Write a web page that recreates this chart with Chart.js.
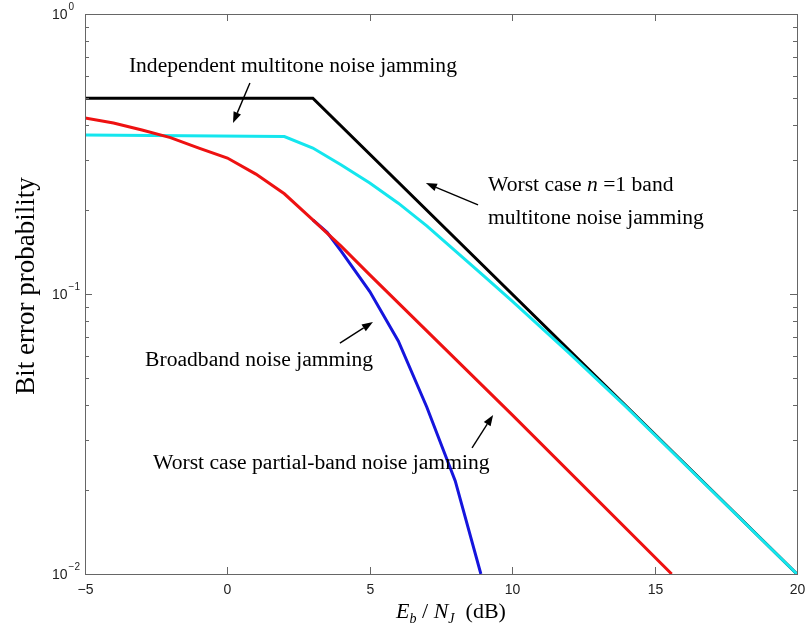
<!DOCTYPE html>
<html>
<head>
<meta charset="utf-8">
<script src="https://cdn.jsdelivr.net/npm/chart.js@4"></script>
<style>
  body { margin: 0; background: #fff; }
  canvas { display: block; }
</style>
</head>
<body>
<canvas id="ber" width="807" height="633"></canvas>
<script>
// Eb/NJ (dB) and bit error probability
const indepDb = [-5, 3, 20];
const indepBer = [0.5, 0.5, 0.01];

const bandDb = [-5, 2, 3, 4, 5, 6, 7, 8, 9, 10, 12, 14, 20];
const bandBer = [0.37, 0.365, 0.332, 0.289, 0.249, 0.211, 0.175, 0.1425, 0.116, 0.0944, 0.0615, 0.0395, 0.01];

const broadDb = [-5, -4, -3, -2, -1, 0, 1, 2, 3, 4, 5, 10, 15.6];
const broadBer = [0.425, 0.408, 0.385, 0.362, 0.332, 0.306, 0.268, 0.228, 0.184, 0.148, 0.117, 0.037, 0.01];

const partialDb = [3, 3.5, 4, 5, 6, 7, 8, 8.9];
const partialBer = [0.184, 0.166, 0.142, 0.102, 0.068, 0.0395, 0.0215, 0.01];

const xTicks = [-5, 0, 5, 10, 15, 20];
const yDecades = [-2, -1, 0];

function pts(xs, ys) {
  return xs.map((v, i) => ({ x: v, y: ys[i] }));
}

const serif = '"Liberation Serif", "Times New Roman", serif';
const sans = '"Liberation Sans", Arial, sans-serif';

// text labels and arrows, placed in data coordinates
const notes = [
  { parts: [['Independent multitone noise jamming', '']], x: 2.3, y: 0.652, align: 'center' },
  { parts: [['Worst case ', ''], ['n', 'italic '], [' =1 band', '']], x: 9.15, y: 0.245, align: 'left' },
  { parts: [['multitone noise jamming', '']], x: 9.15, y: 0.187, align: 'left' },
  { parts: [['Broadband noise jamming', '']], x: -2.89, y: 0.0581, align: 'left' },
  { parts: [['Worst case partial-band noise jamming', '']], x: -2.61, y: 0.0249, align: 'left' }
];
const arrows = [
  [0.79, 0.567, 0.197, 0.408],
  [8.80, 0.208, 6.97, 0.249],
  [3.95, 0.0668, 5.11, 0.0794],
  [8.59, 0.0282, 9.33, 0.037]
];

const decor = {
  id: 'decor',
  afterDraw(chart) {
    const ctx = chart.ctx;
    const a = chart.chartArea;
    const x = chart.scales.x, y = chart.scales.y;
    ctx.save();
    ctx.strokeStyle = '#666';
    ctx.lineWidth = 1;
    const seg = (x1, y1, x2, y2) => { ctx.beginPath(); ctx.moveTo(x1, y1); ctx.lineTo(x2, y2); ctx.stroke(); };
    ctx.strokeRect(Math.round(a.left) + 0.5, Math.round(a.top) + 0.5, Math.round(a.right - a.left), Math.round(a.bottom - a.top));

    // x ticks and labels
    ctx.fillStyle = '#222';
    ctx.font = '14px ' + sans;
    ctx.textAlign = 'center';
    ctx.textBaseline = 'middle';
    xTicks.forEach(v => {
      const px = Math.round(x.getPixelForValue(v)) + 0.5;
      seg(px, a.bottom, px, a.bottom - 7);
      seg(px, a.top, px, a.top + 7);
      ctx.fillText(v < 0 ? '\u2212' + (-v) : String(v), px, a.bottom + 16);
    });

    // y ticks (log, major + minor) and labels
    yDecades.forEach(e => {
      for (let k = 1; k < 10; k++) {
        if (e === 0 && k > 1) break;
        const py = Math.round(y.getPixelForValue(k * Math.pow(10, e))) + 0.5;
        const len = k === 1 ? 7 : 4;
        seg(a.left, py, a.left + len, py);
        seg(a.right, py, a.right - len, py);
      }
      const py = y.getPixelForValue(Math.pow(10, e));
      ctx.textAlign = 'left';
      ctx.font = '14px ' + sans;
      ctx.fillText('10', a.left - 33, py + 1);
      const w = ctx.measureText('10').width;
      ctx.font = '10px ' + sans;
      ctx.fillText(e === 0 ? '0' : '\u2212' + (-e), a.left - 33 + w + 1, py - 7);
    });

    // axis titles
    ctx.fillStyle = '#000';
    ctx.save();
    ctx.translate(27, 286);
    ctx.rotate(-Math.PI / 2);
    ctx.textAlign = 'center';
    ctx.font = '27px ' + serif;
    ctx.fillText('Bit error probability', 0, 0);
    ctx.restore();

    const titleParts = [
      ['E', 'italic 22px ', 0], ['b', 'italic 14px ', 5], [' / ', '22px ', 0],
      ['N', 'italic 22px ', 0], ['J', 'italic 14px ', 5], ['  (dB)', '22px ', 0]
    ];
    let tw = 0;
    titleParts.forEach(p => { ctx.font = p[1] + serif; tw += ctx.measureText(p[0]).width; });
    let tx = (a.left + a.right) / 2 - tw / 2 + 10;
    ctx.textAlign = 'left';
    ctx.textBaseline = 'alphabetic';
    titleParts.forEach(p => {
      ctx.font = p[1] + serif;
      ctx.fillText(p[0], tx, 618 + p[2]);
      tx += ctx.measureText(p[0]).width;
    });

    // annotations
    ctx.textBaseline = 'middle';
    notes.forEach(n => {
      let total = 0;
      n.parts.forEach(p => { ctx.font = p[1] + '21.6px ' + serif; total += ctx.measureText(p[0]).width; });
      let px = x.getPixelForValue(n.x);
      if (n.align === 'center') px -= total / 2;
      const py = y.getPixelForValue(n.y);
      n.parts.forEach(p => {
        ctx.font = p[1] + '21.6px ' + serif;
        ctx.fillText(p[0], px, py);
        px += ctx.measureText(p[0]).width;
      });
    });

    ctx.strokeStyle = '#000';
    ctx.lineWidth = 1.4;
    arrows.forEach(r => {
      const x1 = x.getPixelForValue(r[0]), y1 = y.getPixelForValue(r[1]);
      const x2 = x.getPixelForValue(r[2]), y2 = y.getPixelForValue(r[3]);
      const ang = Math.atan2(y2 - y1, x2 - x1);
      const hl = 11, hw = 4;
      const bx = x2 - hl * Math.cos(ang), by = y2 - hl * Math.sin(ang);
      seg(x1, y1, bx, by);
      ctx.beginPath();
      ctx.moveTo(x2, y2);
      ctx.lineTo(bx + hw * Math.sin(ang), by - hw * Math.cos(ang));
      ctx.lineTo(bx - hw * Math.sin(ang), by + hw * Math.cos(ang));
      ctx.closePath();
      ctx.fill();
    });
    ctx.restore();
  }
};

const line = (data, color, order) => ({
  data: data,
  borderColor: color,
  borderWidth: 3,
  pointRadius: 0,
  tension: 0,
  fill: false,
  order: order
});

new Chart(document.getElementById('ber'), {
  type: 'line',
  data: {
    datasets: [
      line(pts(broadDb, broadBer), '#ee1111', 0),
      line(pts(bandDb, bandBer), '#14e6ee', 1),
      line(pts(partialDb, partialBer), '#1515dd', 2),
      line(pts(indepDb, indepBer), '#000000', 3)
    ]
  },
  options: {
    responsive: false,
    animation: false,
    layout: { padding: { left: 85, top: 14, right: 10, bottom: 59 } },
    plugins: { legend: { display: false }, tooltip: { enabled: false } },
    scales: {
      x: { type: 'linear', min: -5, max: 20, display: false },
      y: { type: 'logarithmic', min: 0.01, max: 1, display: false }
    }
  },
  plugins: [decor]
});
</script>
</body>
</html>
